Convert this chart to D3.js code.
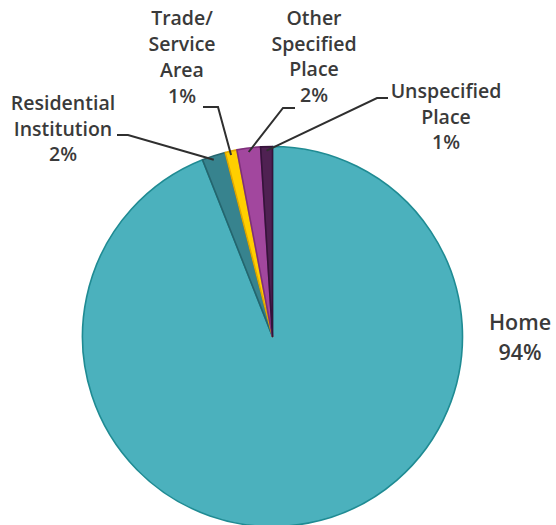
<!DOCTYPE html>
<html>
<head>
<meta charset="utf-8">
<script src="https://cdn.jsdelivr.net/npm/d3@7/dist/d3.min.js"></script>
<style>
  html, body { margin: 0; padding: 0; background: #fff; }
  svg { display: block; }
  text { font-family: "Open Sans", "Liberation Sans", sans-serif; fill: #3a3a3a; }
</style>
</head>
<body>
<svg id="chart" width="556" height="525"></svg>
<script>
// Place of occurrence, share of cases (%)
const categories = ["Home", "Residential Institution", "Trade/ Service Area", "Other Specified Place", "Unspecified Place"];
const values = [94, 2, 1, 2, 1];
const labelLines = [
  ["Home", "94%"],
  ["Residential", "Institution", "2%"],
  ["Trade/", "Service", "Area", "1%"],
  ["Other", "Specified", "Place", "2%"],
  ["Unspecified", "Place", "1%"]
];
const fills = ["#4bb1bd", "#37838e", "#ffcf00", "#a2479e", "#4f2152"];
const strokes = ["#1f8b93", "#25656e", "#e0a800", "#7e2f7b", "#35133a"];

const svg = d3.select("#chart");
const cx = 272.5, cy = 336.5, r = 190;

const pie = d3.pie().sort(null).value(d => d)(values);
const arc = d3.arc().innerRadius(0).outerRadius(r);

const g = svg.append("g").attr("transform", `translate(${cx},${cy})`);
g.selectAll("path.slice")
  .data(pie)
  .join("path")
  .attr("class", "slice")
  .attr("d", arc)
  .attr("fill", (d, i) => fills[i])
  .attr("stroke", (d, i) => strokes[i])
  .attr("stroke-width", 1.6)
  .attr("stroke-linejoin", "round");

// label blocks: centre x, first line y, line spacing, font size, weight
const labelLayout = [
  { x: 520, y: 330, dy: 30, size: 21.5, weight: 600 },
  { x: 63, y: 110, dy: 25.5, size: 19.5, weight: 600 },
  { x: 182, y: 25, dy: 26, size: 19.5, weight: 600 },
  { x: 314, y: 25, dy: 25.7, size: 19.5, weight: 600 },
  { x: 446, y: 98, dy: 25.5, size: 19.5, weight: 600 }
];
// leader elbows: [text-side end, elbow]
const leaderElbows = [
  null,
  [[117, 135], [128, 135]],
  [[203, 107], [218, 107]],
  [[295, 108], [283, 108]],
  [[388, 98], [377, 98]]
];

const outerPt = d3.arc().innerRadius(r).outerRadius(r);
pie.forEach((d, i) => {
  const L = labelLayout[i];
  const t = svg.append("text")
    .attr("text-anchor", "middle")
    .attr("font-size", L.size)
    .attr("font-weight", L.weight);
  labelLines[i].forEach((line, k) => {
    t.append("tspan").attr("x", L.x).attr("y", L.y + k * L.dy).text(line);
  });
  if (leaderElbows[i]) {
    const c = outerPt.centroid(d);
    const pts = [leaderElbows[i][0], leaderElbows[i][1], [cx + c[0], cy + c[1] + 4]];
    svg.append("path")
      .attr("d", d3.line()(pts))
      .attr("fill", "none")
      .attr("stroke", "#2f2f2f")
      .attr("stroke-width", 2);
  }
});
</script>
</body>
</html>
